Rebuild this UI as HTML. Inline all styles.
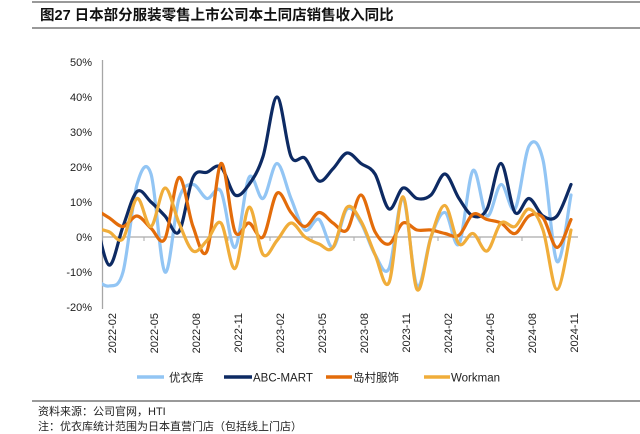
<!DOCTYPE html>
<html><head><meta charset="utf-8"><style>
body{margin:0;background:#fff;}
svg{display:block;font-family:"Liberation Sans","Noto Sans CJK SC",sans-serif;}
</style></head><body>
<svg id="chart" width="640" height="434" viewBox="0 0 640 434">
<line x1="32" y1="2" x2="640" y2="2" stroke="#333" stroke-width="1"/>
<text x="40" y="20" font-size="14.5" font-weight="bold" fill="#111">图27 日本部分服装零售上市公司本土同店销售收入同比</text>
<line x1="32" y1="28" x2="640" y2="28" stroke="#333" stroke-width="1"/>
<defs><clipPath id="plotclip"><rect x="102" y="40" width="476" height="280"/></clipPath></defs>
<g id="yaxis"></g>
<g id="xaxis"></g>
<g id="series" clip-path="url(#plotclip)"></g>
<g id="legend">
<g><line x1="137" y1="377" x2="164" y2="377" stroke="#92c5f4" stroke-width="3.5"/><text x="169" y="381.5" font-size="11.5" fill="#222">优衣库</text></g>
<g><line x1="224" y1="377" x2="252" y2="377" stroke="#0d2a63" stroke-width="3.5"/><text x="253" y="381.5" font-size="11.5" fill="#222">ABC-MART</text></g>
<g><line x1="326" y1="377" x2="352" y2="377" stroke="#e36c0a" stroke-width="3.5"/><text x="353" y="381.5" font-size="11.5" fill="#222">岛村服饰</text></g>
<g><line x1="424" y1="377" x2="450" y2="377" stroke="#f0ad3a" stroke-width="3.5"/><text x="451" y="381.5" font-size="11.5" fill="#222">Workman</text></g>
</g>
<line x1="32" y1="401" x2="640" y2="401" stroke="#333" stroke-width="1"/>
<text x="38" y="415" font-size="11" fill="#222">资料来源：公司官网，HTI</text>
<text x="38" y="430" font-size="11" fill="#222">注：优衣库统计范围为日本直营门店（包括线上门店）</text>
</svg>
<script>
const months = ["2022-01","2022-02","2022-03","2022-04","2022-05","2022-06","2022-07","2022-08","2022-09","2022-10","2022-11","2022-12","2023-01","2023-02","2023-03","2023-04","2023-05","2023-06","2023-07","2023-08","2023-09","2023-10","2023-11","2023-12","2024-01","2024-02","2024-03","2024-04","2024-05","2024-06","2024-07","2024-08","2024-09","2024-10","2024-11"];
const uniqlo = [-12,-14,-10,15,18,-10,11,15,11,13,-3,17,11,21,11,2,5,-3,8,4,-5,-9,11,-14,0,7,-2,19,6,15,8,26,22,-7,12];
const abcMart = [6,-8,3,13,10,6,1.5,17,18.5,20,12,15,23,40,23,22.5,16,19.5,24,21,18,8,14,11,12,18,11,6,8,21,7,11,6,6,15];
const shimamura = [8,5.5,3,6,2.5,-0.5,17,3,-4,21,1.5,4,0,12.5,7,3,7,4,2,12,1.5,-2,4,2,2,1,0.5,6.5,5,4,1,6,5.5,-3,5];
const workman = [2.5,1.5,-0.5,11,3,14,4,-4,-1,4,-9,8.5,-5,-1,4,0,-2,-3,8.5,4.5,-5,-13,11.5,-15,0,9,-2,1,-4,4,3,8,2,-15,2];
const yTicks = [-20,-10,0,10,20,30,40,50];
const tickEvery = 3;

const NS="http://www.w3.org/2000/svg";
const X0=95, STEP=14, Y0=237, PY=3.5;
const xS = i => X0 + STEP*i;
const yS = v => Y0 - v*PY;
function mk(tag, attrs, parent){const e=document.createElementNS(NS,tag);for(const k in attrs)e.setAttribute(k,attrs[k]);parent.appendChild(e);return e;}

const yg=document.getElementById('yaxis');
const axl=mk('line',{x1:102.5,y1:yS(50)-2,x2:102.5,y2:yS(-20)+2,stroke:'#a6a6a6','stroke-width':1.3},yg);


yTicks.forEach(v=>{
  const t=mk('text',{x:92,y:yS(v)+4,'font-size':11,'text-anchor':'end',fill:'#222'},yg);
  t.textContent=v+'%';
  
  
});
const xg=document.getElementById('xaxis');
const zl=mk('line',{x1:102,y1:Y0,x2:578,y2:Y0,stroke:'#aaa','stroke-width':1.2},xg);


for(let i=1;i<months.length;i+=tickEvery){
  const bx=xS(i)-7+STEP*3;
  if(bx<578){
    const tk=mk('line',{x1:bx,y1:Y0,x2:bx,y2:Y0+4,stroke:'#aaa'},xg);
    
    
  }
  const x=xS(i)+7;
  const t=mk('text',{x:x,y:313,'font-size':11,'text-anchor':'end',fill:'#222',transform:`rotate(-90 ${x} 313)`},xg);
  t.textContent=months[i];
  
  
}
function smooth(vals){
  const p=vals.map((v,i)=>[xS(i),yS(v)]);
  let d=`M${p[0][0]},${p[0][1]}`;
  for(let i=0;i<p.length-1;i++){
    const p0=p[Math.max(0,i-1)],p1=p[i],p2=p[i+1],p3=p[Math.min(p.length-1,i+2)];
    const t=1/6;
    const c1=[p1[0]+(p2[0]-p0[0])*t,p1[1]+(p2[1]-p0[1])*t];
    const c2=[p2[0]-(p3[0]-p1[0])*t,p2[1]-(p3[1]-p1[1])*t];
    d+=` C${c1[0]},${c1[1]} ${c2[0]},${c2[1]} ${p2[0]},${p2[1]}`;
  }
  return d;
}
const sg=document.getElementById('series');
[[uniqlo,'#92c5f4','line-uniqlo'],[abcMart,'#0d2a63','line-abc-mart'],[shimamura,'#e36c0a','line-shimamura'],[workman,'#f0ad3a','line-workman']].forEach(([v,c,n])=>{
  const p=mk('path',{d:smooth(v),fill:'none',stroke:c,'stroke-width':3.2,'stroke-linejoin':'round','stroke-linecap':'round'},sg);
  
  
});
</script>
</body></html>
